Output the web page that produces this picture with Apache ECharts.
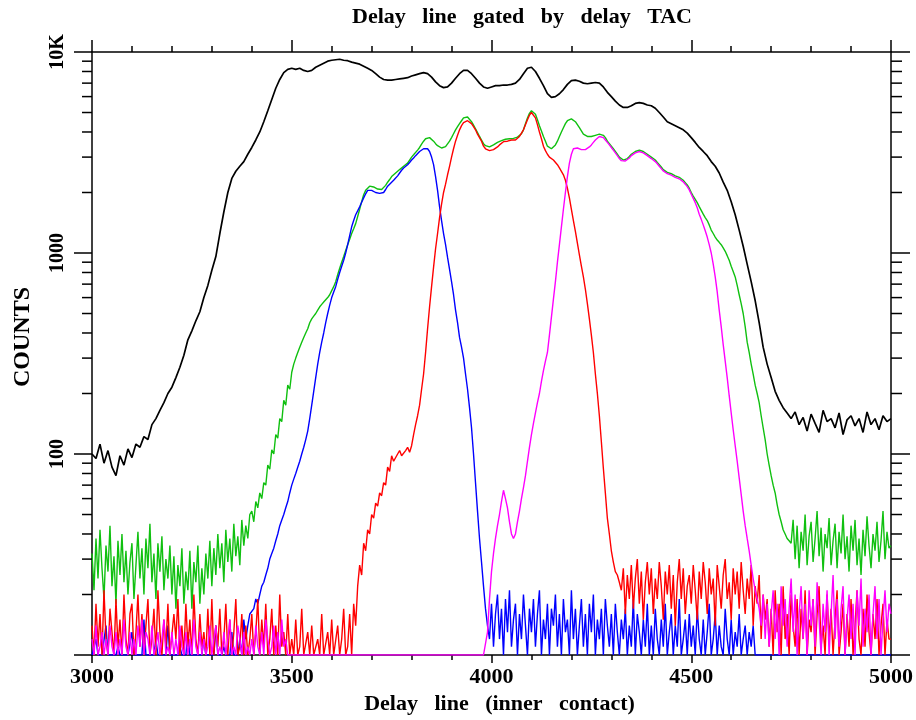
<!DOCTYPE html>
<html>
<head>
<meta charset="utf-8">
<script src="https://cdn.jsdelivr.net/npm/echarts@6/dist/echarts.min.js"></script>
<style>
  html, body { margin: 0; padding: 0; background: #fff; }
  #main { width: 916px; height: 720px; }
</style>
</head>
<body>
<div id="main"></div>
<script>
// histogram bins start at channel 3000; black is read every 10 channels, the gated spectra every 5
const channelStart = 3000;

const blackCounts = [
  100, 95, 112, 90, 104, 86, 78, 98, 88, 106,
  96, 112, 108, 122, 118, 140, 150, 165, 180, 200,
  215, 240, 270, 310, 370, 410, 460, 510, 600, 690,
  820, 960, 1250, 1600, 2000, 2350, 2550, 2700, 2850, 3100,
  3350, 3650, 4000, 4500, 5100, 5800, 6600, 7300, 7900, 8200,
  8300, 8200, 8300, 8100, 8000, 8100, 8400, 8600, 8800, 9000,
  9100, 9150, 9200, 9100, 9050, 8900, 8800, 8700, 8500, 8300,
  8100, 7800, 7500, 7300, 7250, 7250, 7300, 7350, 7400, 7450,
  7600, 7700, 7800, 7900, 7800, 7500, 7100, 6800, 6650, 6700,
  7000, 7400, 7800, 8100, 8100, 7800, 7400, 7000, 6700, 6600,
  6700, 6800, 6800, 6850, 6850, 6900, 7000, 7300, 7800, 8300,
  8400, 8000, 7400, 6800, 6200, 5950, 6000, 6200, 6500, 6900,
  7200, 7250, 7150, 7000, 6950, 7000, 7050, 7000, 6700, 6300,
  6000, 5700, 5450, 5300, 5300, 5400, 5550, 5600, 5550, 5450,
  5400, 5250, 5000, 4750, 4500, 4400, 4300, 4200, 4100, 3950,
  3750, 3550, 3350, 3200, 3050, 2850, 2700, 2500, 2250, 2050,
  1800, 1550, 1300, 1080, 880, 720, 580, 450, 340, 280,
  240, 205, 185, 170, 160, 150, 162, 140, 152, 130,
  158, 142, 128, 165, 145, 150, 135, 160, 125, 148,
  155, 138, 150, 128, 162, 140, 150, 132, 155, 145,
  150
];

const greenCounts = [
  32, 21, 38, 24, 42, 27, 19, 35, 26, 44, 22, 31, 18, 37, 25, 40, 23, 33, 20, 29,
  36, 19, 28, 41, 24, 34, 20, 38, 27, 45, 23, 32, 19, 36, 26, 39, 21, 30, 24, 35,
  20, 31, 17, 28, 22, 34, 18, 26, 21, 33, 17, 29, 23, 35, 18, 27, 20, 32, 24, 37,
  22, 34, 25, 40, 27, 36, 23, 42, 29, 38, 26, 45, 31, 39, 28, 47, 35, 44, 38, 50,
  52, 46, 58, 54, 64, 60, 72, 70, 88, 84, 105, 100, 125, 120, 150, 145, 185, 175, 220, 210,
  255, 280, 300, 320, 340, 360, 380, 400, 420, 450, 470, 485, 500, 520, 540, 555, 570, 585, 600, 620,
  650, 680, 720, 780, 840, 900, 960, 1030, 1100, 1170, 1250, 1320, 1400, 1520, 1650, 1800, 1950, 2050, 2100, 2150,
  2150, 2130, 2100, 2080, 2050, 2070, 2100, 2170, 2250, 2320, 2400, 2450, 2500, 2550, 2600, 2650, 2700, 2750, 2800, 2900,
  3000, 3080, 3150, 3250, 3350, 3480, 3600, 3700, 3750, 3750, 3700, 3600, 3500, 3420, 3350, 3330, 3330, 3380, 3450, 3600,
  3750, 3920, 4100, 4250, 4400, 4550, 4700, 4750, 4750, 4650, 4500, 4330, 4150, 3970, 3800, 3650, 3500, 3420, 3350, 3370,
  3400, 3450, 3500, 3550, 3600, 3620, 3650, 3680, 3700, 3700, 3700, 3720, 3750, 3770, 3800, 3920, 4100, 4400, 4700, 4950,
  5100, 5050, 4900, 4600, 4300, 4050, 3800, 3600, 3400, 3330, 3300, 3350, 3450, 3600, 3800, 4000, 4200, 4400, 4550, 4620,
  4650, 4600, 4500, 4350, 4200, 4050, 3900, 3850, 3800, 3800, 3800, 3820, 3850, 3880, 3900, 3900, 3850, 3750, 3600, 3500,
  3400, 3300, 3200, 3100, 3000, 2950, 2900, 2900, 2950, 3020, 3100, 3150, 3200, 3230, 3250, 3230, 3200, 3150, 3100, 3050,
  3000, 2950, 2900, 2820, 2750, 2680, 2600, 2560, 2520, 2500, 2480, 2450, 2420, 2400, 2380, 2340, 2300, 2240, 2180, 2100,
  2000, 1920, 1850, 1780, 1700, 1630, 1560, 1500, 1450, 1380, 1300, 1250, 1200, 1160, 1130, 1100, 1060, 1020, 970, 920,
  860, 810, 760, 690, 620, 560, 500, 430, 360, 320, 280, 250, 220, 200, 180, 155, 135, 118, 100, 88,
  78, 70, 64, 56, 50, 46, 42, 40, 38, 37, 36, 47, 30, 44, 27, 41, 33, 50, 28, 39,
  46, 29, 38, 52, 31, 43, 26, 40, 34, 48, 28, 37, 45, 27, 41, 32, 50, 30, 39, 26,
  44, 33, 47, 28, 38, 25, 42, 31, 49, 35, 27, 40, 33, 46, 29, 37, 52, 30, 41, 34,
  35
];

const blueCounts = [
  10, 10, 12, 10, 10, 10, 10, 14, 10, 10, 10, 10, 10, 11, 10, 10, 10, 10, 10, 10,
  13, 10, 10, 10, 10, 10, 15, 10, 10, 10, 10, 10, 12, 10, 10, 10, 10, 10, 14, 10,
  10, 10, 10, 10, 11, 10, 10, 10, 13, 10, 10, 10, 10, 10, 10, 10, 12, 10, 10, 10,
  10, 10, 14, 10, 10, 10, 11, 10, 10, 10, 13, 10, 10, 10, 12, 10, 15, 12, 14, 16,
  16, 17, 19, 18, 20, 22, 23, 25, 27, 30, 32, 34, 37, 40, 44, 47, 50, 54, 58, 64,
  70, 75, 80, 86, 92, 100, 108, 118, 130, 150, 175, 205, 240, 280, 320, 360, 400, 450, 500, 550,
  600, 640, 680, 740, 800, 860, 920, 1000, 1100, 1220, 1350, 1450, 1550, 1620, 1700, 1790, 1880, 1970, 2050, 2060,
  2050, 2020, 2000, 1990, 1980, 1990, 2000, 2070, 2150, 2200, 2250, 2300, 2350, 2420, 2500, 2580, 2650, 2700, 2750, 2820,
  2900, 2970, 3050, 3120, 3200, 3250, 3300, 3320, 3300, 3200, 3000, 2750, 2400, 2050, 1700, 1450, 1250, 1100, 950, 830,
  720, 620, 520, 450, 380, 340, 300, 250, 210, 170, 135, 100, 72, 52, 38, 29, 22, 17, 14, 12,
  18, 11, 16, 20, 12, 17, 10, 19, 13, 21, 11, 15, 18, 10, 16, 12, 20, 14, 10, 17,
  13, 19, 11, 16, 21, 10, 15, 12, 18, 10, 17, 14, 20, 11, 16, 10, 19, 13, 15, 10,
  21, 12, 17, 10, 14, 19, 11, 16, 10, 18, 13, 20, 10, 15, 12, 17, 10, 19, 14, 11,
  16, 10, 18, 13, 10, 15, 12, 17, 10, 14, 11, 19, 10, 16, 13, 10, 15, 11, 18, 10,
  14, 10, 17, 12, 10, 15, 11, 18, 10, 13, 16, 10, 14, 11, 19, 10, 12, 15, 10, 16,
  11, 14, 10, 17, 12, 10, 15, 10, 13, 18, 10, 12, 16, 10, 14, 11, 10, 17, 12, 10,
  15, 10, 13, 11, 16, 10, 12, 14, 10, 13, 11, 14, 10, 10, 10, 10, 10, 10, 10, 10,
  10, 10, 10, 10, 10, 10, 10, 10, 10, 10, 10, 10, 10, 10, 10, 10, 10, 10, 10, 10,
  10, 10, 10, 10, 10, 10, 10, 10, 10, 10, 10, 10, 10, 10, 10, 10, 10, 10, 10, 10,
  10, 10, 10, 10, 10, 10, 10, 10, 10, 10, 10, 10, 10, 10, 10, 10, 10, 10, 10, 10,
  10
];

const redCounts = [
  14, 10, 18, 11, 16, 10, 21, 12, 10, 17, 13, 10, 19, 11, 15, 10, 20, 12, 10, 16,
  18, 10, 13, 20, 11, 16, 10, 14, 19, 10, 12, 17, 10, 21, 13, 10, 15, 11, 18, 10,
  10, 16, 12, 19, 10, 14, 10, 18, 11, 15, 10, 20, 12, 10, 16, 11, 13, 10, 17, 10,
  19, 10, 14, 11, 17, 10, 12, 18, 10, 15, 10, 13, 19, 10, 11, 16, 10, 14, 10, 12,
  16, 10, 13, 19, 10, 15, 11, 18, 10, 12, 17, 10, 14, 10, 20, 11, 13, 10, 16, 10,
  12, 10, 15, 10, 11, 17, 10, 10, 13, 10, 14, 10, 10, 12, 10, 16, 10, 10, 13, 10,
  15, 10, 10, 14, 10, 12, 17, 10, 11, 16, 10, 18, 14, 22, 28, 25, 36, 33, 42, 40,
  50, 48, 57, 55, 64, 62, 72, 70, 86, 82, 98, 92, 94, 100, 104, 98, 96, 104, 108, 102,
  110, 125, 140, 155, 175, 210, 250, 320, 420, 540, 680, 850, 1050, 1250, 1500, 1750, 2000, 2200, 2450, 2700,
  3000, 3300, 3600, 3850, 4100, 4300, 4450, 4520, 4550, 4500, 4400, 4250, 4100, 3900, 3750, 3600, 3400, 3300, 3250, 3230,
  3250, 3270, 3300, 3370, 3450, 3520, 3580, 3600, 3600, 3620, 3650, 3650, 3650, 3700, 3800, 3950, 4100, 4350, 4600, 4850,
  5000, 4950, 4700, 4350, 4000, 3700, 3400, 3230, 3100, 3000, 2950, 2900, 2850, 2750, 2650, 2550, 2450, 2300, 2100, 1880,
  1650, 1450, 1280, 1120, 980, 860, 760, 660, 560, 470, 390, 320, 250, 200, 155, 115, 85, 64, 48, 40,
  33, 29, 26, 25, 23, 21, 27, 16, 25, 19, 28, 17, 24, 30, 18, 26, 15, 23, 29, 20,
  27, 16, 24, 19, 29, 22, 15, 26, 20, 28, 17, 25, 14, 23, 30, 19, 27, 16, 22, 25,
  18, 28, 21, 15, 26, 19, 29, 23, 16, 27, 20, 24, 14, 28, 22, 17, 25, 30, 19, 23,
  15, 27, 20, 26, 17, 29, 21, 16, 24, 19, 28, 14, 22, 18, 25, 12, 20, 15, 19, 11,
  17, 10, 21, 13, 18, 10, 22, 12, 16, 10, 20, 14, 11, 19, 10, 17, 12, 21, 10, 15,
  13, 19, 10, 16, 22, 11, 14, 10, 20, 12, 17, 10, 15, 21, 10, 13, 18, 10, 16, 11,
  19, 10, 14, 21, 12, 10, 17, 11, 20, 13, 10, 16, 12, 19, 10, 14, 18, 10, 15, 12,
  12
];

const magentaCounts = [
  12, 10, 14, 10, 11, 13, 10, 12, 10, 14, 11, 10, 13, 10, 12, 10, 15, 11, 10, 13,
  10, 12, 10, 14, 11, 15, 10, 13, 12, 10, 14, 10, 11, 13, 10, 12, 15, 10, 11, 10,
  13, 10, 12, 10, 14, 11, 10, 13, 10, 12, 10, 15, 11, 10, 13, 10, 12, 10, 11, 14,
  10, 12, 14, 10, 11, 10, 13, 10, 12, 15, 10, 11, 10, 14, 12, 10, 13, 10, 11, 10,
  12, 10, 14, 11, 10, 13, 10, 15, 12, 10, 11, 14, 10, 13, 10, 15, 11, 12, 10, 10,
  10, 10, 10, 10, 10, 10, 10, 10, 10, 10, 10, 10, 10, 10, 10, 10, 10, 10, 10, 10,
  10, 10, 10, 10, 10, 10, 10, 10, 10, 10, 10, 10, 10, 10, 10, 10, 10, 10, 10, 10,
  10, 10, 10, 10, 10, 10, 10, 10, 10, 10, 10, 10, 10, 10, 10, 10, 10, 10, 10, 10,
  10, 10, 10, 10, 10, 10, 10, 10, 10, 10, 10, 10, 10, 10, 10, 10, 10, 10, 10, 10,
  10, 10, 10, 10, 10, 10, 10, 10, 10, 10, 10, 10, 10, 10, 10, 10, 10, 10, 13, 19,
  26, 32, 38, 44, 50, 58, 66, 60, 54, 46, 40, 38, 40, 46, 52, 60, 68, 78, 92, 108,
  125, 142, 160, 180, 200, 230, 260, 290, 320, 390, 480, 590, 720, 900, 1100, 1350, 1650, 2000, 2400, 2800,
  3100, 3300, 3350, 3330, 3300, 3270, 3250, 3270, 3300, 3370, 3450, 3550, 3650, 3720, 3800, 3800, 3750, 3650, 3550, 3450,
  3350, 3250, 3150, 3050, 2950, 2880, 2850, 2870, 2900, 2970, 3050, 3100, 3150, 3180, 3200, 3180, 3150, 3100, 3050, 3000,
  2950, 2900, 2850, 2780, 2700, 2630, 2560, 2520, 2480, 2460, 2440, 2410, 2380, 2360, 2340, 2300, 2260, 2200, 2140, 2060,
  1960, 1870, 1780, 1680, 1560, 1470, 1380, 1290, 1200, 1100, 1000, 880, 760, 640, 520, 430, 350, 290, 240, 195,
  160, 132, 110, 92, 76, 63, 52, 44, 38, 33, 28, 24, 21, 19, 17, 14, 20, 12, 18, 11,
  16, 21, 12, 18, 10, 22, 14, 19, 11, 17, 24, 13, 20, 10, 16, 22, 12, 18, 10, 21,
  14, 19, 11, 23, 15, 10, 18, 13, 21, 10, 16, 25, 12, 19, 11, 17, 22, 10, 15, 20,
  12, 18, 10, 21, 14, 24, 11, 17, 13, 20, 10, 16, 22, 12, 19, 10, 15, 21, 13, 18,
  16
];

// minor tick values of the log axis (2..9 in each decade)
const minorTickValues = [
  20, 30, 40, 50, 60, 70, 80, 90,
  200, 300, 400, 500, 600, 700, 800, 900,
  2000, 3000, 4000, 5000, 6000, 7000, 8000, 9000
];

function toPairs(values, step) {
  return values.map((v, i) => [channelStart + i * step, v]);
}

const FONT = '"Liberation Serif", "DejaVu Serif", serif';

let chartDom = document.getElementById('main');
let myChart = echarts.init(chartDom);

const lineSeries = (name, values, step, color, width) => ({
  name: name,
  type: 'line',
  data: toPairs(values, step),
  showSymbol: false,
  symbol: 'none',
  xAxisIndex: 0,
  yAxisIndex: 0,
  lineStyle: { color: color, width: width },
  itemStyle: { color: color },
  clip: true,
  z: 2
});

let option = {
  animation: false,
  backgroundColor: '#fff',
  title: {
    text: 'Delay   line   gated   by   delay   TAC',
    left: 347,
    top: 1,
    textStyle: { fontFamily: FONT, fontSize: 22, fontWeight: 'bold', color: '#000' }
  },
  graphic: [
    {
      type: 'text',
      x: 23,
      y: 337,
      rotation: Math.PI / 2,
      style: {
        text: 'COUNTS',
        fontFamily: FONT,
        fontSize: 24,
        fontWeight: 'bold',
        fill: '#000',
        align: 'center',
        verticalAlign: 'middle'
      }
    }
  ],
  grid: { left: 92, right: 19, top: 52, bottom: 65 },
  xAxis: [
    {
      type: 'value',
      position: 'bottom',
      min: 3000,
      max: 5000,
      interval: 500,
      name: 'Delay   line   (inner   contact)',
      nameLocation: 'middle',
      nameGap: 38,
      nameTextStyle: { fontFamily: FONT, fontSize: 22, fontWeight: 'bold', color: '#000', padding: [0, 0, 0, 16] },
      axisLine: { show: true, onZero: false, lineStyle: { color: '#000', width: 1.5 } },
      axisTick: { show: true, inside: false, length: 8, lineStyle: { color: '#000', width: 1.5 } },
      minorTick: { show: true, splitNumber: 5, length: 5, lineStyle: { color: '#000', width: 1.5 } },
      axisLabel: {
        fontFamily: FONT, fontSize: 22, fontWeight: 'bold', color: '#000', margin: 11,
        formatter: v => String(v)
      },
      splitLine: { show: false }
    },
    {
      type: 'value',
      position: 'top',
      min: 3000,
      max: 5000,
      interval: 500,
      axisLine: { show: true, onZero: false, lineStyle: { color: '#000', width: 1.5 } },
      axisTick: { show: true, inside: false, length: 12, lineStyle: { color: '#000', width: 1.5 } },
      minorTick: { show: true, splitNumber: 5, length: 6, lineStyle: { color: '#000', width: 1.5 } },
      axisLabel: { show: false },
      splitLine: { show: false }
    }
  ],
  yAxis: [
    {
      type: 'log',
      logBase: 10,
      position: 'left',
      min: 10,
      max: 10000,
      axisLine: { show: true, onZero: false, lineStyle: { color: '#000', width: 1.5 } },
      axisTick: { show: true, inside: false, length: 18, lineStyle: { color: '#000', width: 1.5 } },
      axisLabel: {
        rotate: 90,
        margin: 24,
        fontFamily: FONT,
        fontSize: 20,
        fontWeight: 'bold',
        color: '#000',
        formatter: function (v) {
          if (v <= 10) return '';
          if (v >= 10000) return '10K';
          return String(Math.round(v));
        }
      },
      splitLine: { show: false }
    },
    {
      type: 'log',
      logBase: 10,
      position: 'right',
      min: 10,
      max: 10000,
      axisLine: { show: true, onZero: false, lineStyle: { color: '#000', width: 1.5 } },
      axisTick: { show: true, inside: false, length: 19, lineStyle: { color: '#000', width: 1.5 } },
      axisLabel: { show: false },
      splitLine: { show: false }
    }
  ],
  series: [
    lineSeries('total', blackCounts, 10, '#000000', 1.7),
    lineSeries('sum', greenCounts, 5, '#10c010', 1.4),
    lineSeries('gate 1', blueCounts, 5, '#0000ff', 1.4),
    lineSeries('gate 2', redCounts, 5, '#ff0000', 1.4),
    lineSeries('gate 3', magentaCounts, 5, '#ff00ff', 1.4),
    {
      type: 'custom',
      xAxisIndex: 0,
      yAxisIndex: 0,
      clip: false,
      silent: true,
      data: minorTickValues.map(v => [channelStart, v]),
      renderItem: function (params, api) {
        const y = api.coord([api.value(0), api.value(1)])[1];
        const xl = params.coordSys.x;
        const xr = xl + params.coordSys.width;
        const st = { stroke: '#000', lineWidth: 1.5 };
        return {
          type: 'group',
          children: [
            { type: 'line', shape: { x1: xl - 10, y1: y, x2: xl, y2: y }, style: st },
            { type: 'line', shape: { x1: xr, y1: y, x2: xr + 11, y2: y }, style: st }
          ]
        };
      },
      z: 5
    }
  ]
};

option && myChart.setOption(option);
</script>
</body>
</html>
